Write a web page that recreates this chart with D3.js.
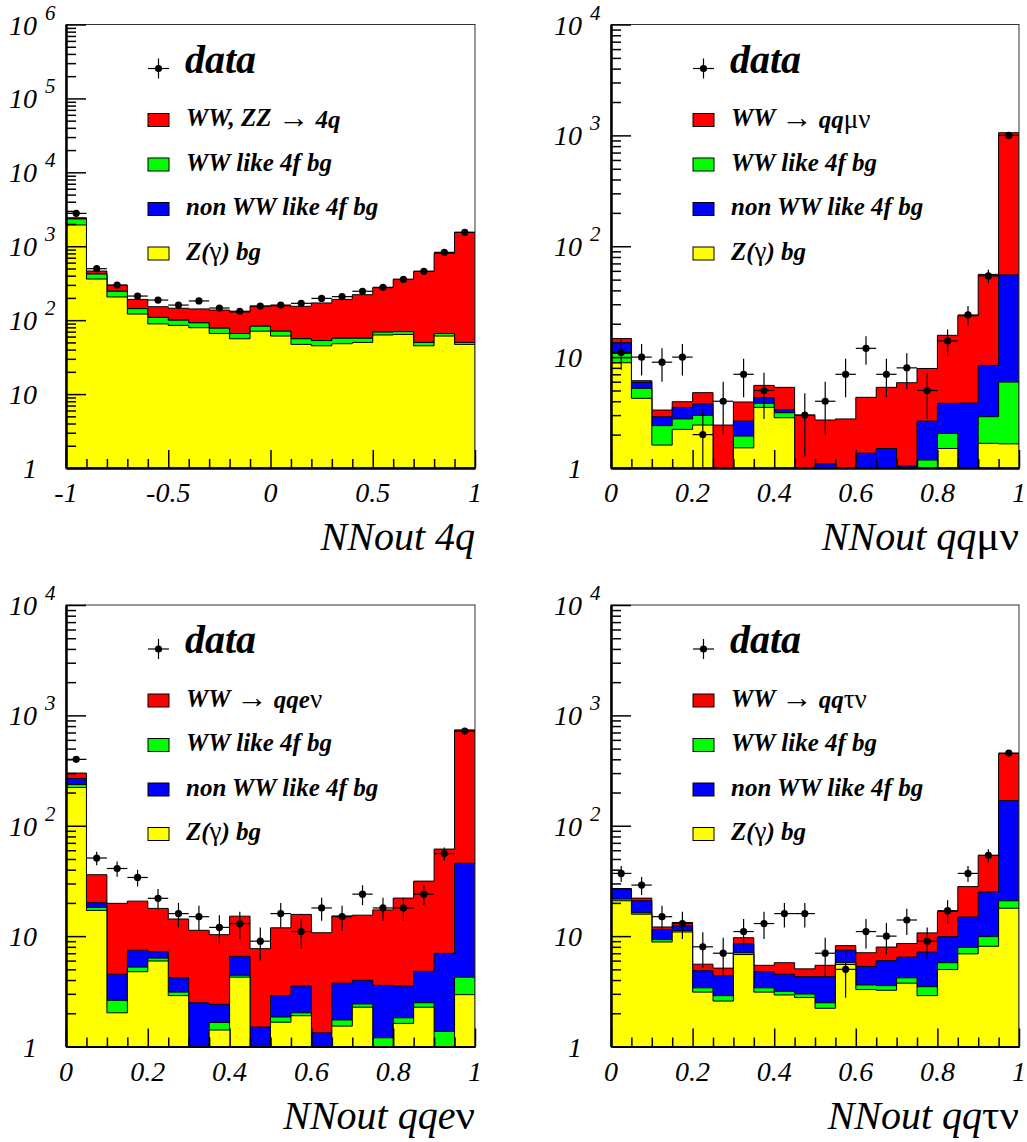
<!DOCTYPE html>
<html>
<head>
<meta charset="utf-8">
<script src="https://cdn.jsdelivr.net/npm/d3@7"></script>
<style>
  body { margin: 0; background: #fff; }
  text { font-family: "Liberation Serif", "Times New Roman", serif; }
</style>
</head>
<body>
<svg id="chart" width="1027" height="1142"></svg>
<script>
// ---- bin edges / tick labels ----
const edges4q = [-1, -0.9, -0.8, -0.7, -0.6, -0.5, -0.4, -0.3, -0.2, -0.1, 0,
                 0.1, 0.2, 0.3, 0.4, 0.5, 0.6, 0.7, 0.8, 0.9, 1];
const edgesLep = [0, 0.05, 0.1, 0.15, 0.2, 0.25, 0.3, 0.35, 0.4, 0.45, 0.5,
                  0.55, 0.6, 0.65, 0.7, 0.75, 0.8, 0.85, 0.9, 0.95, 1];
const xLabels4q = [-1, -0.5, 0, 0.5, 1];
const xLabelsLep = [0, 0.2, 0.4, 0.6, 0.8, 1];

// ---- NNout 4q ----
const zgam4q  = [1940, 360, 206, 121, 89, 85, 79, 66, 56, 71, 61, 47, 45, 48, 50, 63, 64, 45, 61, 47];
const ww4f4q  = [400, 61, 40, 22, 20, 15, 13, 12, 10, 12, 10, 9, 8, 9, 7, 6, 6, 5, 5, 3];
const nonww4q = [0, 0, 0, 0, 0, 0, 0, 0, 0, 0, 0, 0, 0, 0, 0, 0, 0, 0, 0, 0];
const sig4q   = [90, 41, 50, 48, 43, 45, 50, 59, 63, 72, 86, 98, 118, 134, 164, 206, 287, 408, 736, 1493];
const data4q  = [2790, 497, 299, 212, 187, 160, 182, 146, 132, 155, 160, 169, 197, 208, 246, 278, 357, 458, 828, 1543];

// ---- NNout qq mu nu ----
const zgamMu  = [8.9, 4.25, 1.61, 2.23, 2.44, 0, 1.52, 3.52, 2.84, 0, 0, 0, 0, 0, 0, 0, 1.5, 0, 1.67, 1.65];
const ww4fMu  = [1.9, 0.98, 0.8, 0.54, 0.54, 0, 0.42, 0.31, 0.31, 0, 0, 0, 0, 0, 0, 1.18, 0.55, 0, 1.23, 4.31];
const nonwwMu = [2.7, 0.69, 0.49, 0.75, 0.8, 0, 0.71, 0.48, 0.21, 0, 1.09, 0, 1.36, 1.5, 1.04, 1.47, 1.78, 3.85, 5.53, 49.2];
const sigMu   = [1.2, 0.21, 0.43, 0.44, 1.0, 2.44, 1.29, 1.25, 1.98, 3.0, 1.62, 2.77, 2.98, 3.84, 4.84, 5.25, 11.9, 19.75, 47.3, 1001];
const dataMu  = [11, 10, 9, 10, 2, 4, 7, 5, 0, 3, 4, 7, 12, 7, 8, 5, 14, 24, 54, 1000];

// ---- NNout qq e nu ----
const zgamE  = [222, 17.1, 2.02, 4.76, 5.95, 2.89, 0, 1.41, 4.25, 0, 1.66, 1.9, 0, 1.53, 2.27, 0, 1.62, 2.27, 0, 2.95];
const ww4fE  = [14, 1.1, 0.6, 0.48, 0.37, 0.22, 0, 0.24, 0.17, 0, 0.19, 0.12, 0, 0.21, 0.16, 1.2, 0.2, 0.22, 1.37, 1.3];
const nonwwE = [32, 1.9, 1.9, 2.21, 0.91, 1.08, 2.49, 0.76, 2.14, 1.5, 1.04, 1.51, 1.33, 2.01, 1.55, 2.38, 1.71, 2.31, 5.6, 41.5];
const sigE   = [32, 15.9, 15.3, 13.3, 10.6, 10.1, 8.8, 7.9, 8.6, 6.2, 9.0, 12.2, 9.4, 11.5, 11.5, 13.7, 18.6, 26.7, 54.5, 693];
const dataE  = [400, 51, 41, 34, 22, 16, 15, 12, 13, 9, 16, 11, 18, 15, 24, 18, 18, 24, 56, 720];

// ---- NNout qq tau nu ----
const zgamTau  = [20.9, 15.8, 8.85, 10.9, 3.11, 2.58, 6.81, 3.11, 2.93, 2.78, 2.22, 5.53, 3.28, 3.23, 3.75, 2.89, 4.98, 6.91, 8.09, 17.9];
const ww4fTau  = [0.8, 0.5, 0.45, 0.3, 0.29, 0.31, 0.26, 0.29, 0.23, 0.21, 0.27, 0.25, 0.33, 0.33, 0.44, 0.59, 0.76, 1.0, 1.8, 3.0];
const nonwwTau = [5.0, 4.6, 2.2, 1.2, 1.47, 1.49, 1.45, 1.36, 1.36, 1.3, 1.8, 1.67, 1.71, 2.44, 2.27, 3.69, 4.15, 6.99, 15.2, 148];
const sigTau   = [0.3, 1.2, 0.6, 0.9, 0.7, 0.75, 1.15, 0.68, 1.22, 0.76, 1.15, 0.75, 1.75, 1.96, 2.12, 3.53, 6.81, 13.2, 28.7, 282];
const dataTau  = [37, 29, 15, 13, 8, 7, 11, 13, 16, 16, 7, 5, 11, 10, 14, 9, 17, 37, 54, 455];

const legendNames = {
  ww4f: "WW like 4f bg",
  nonww: "non WW like 4f bg",
  zg: "Z(γ) bg"
};

const panels = [
  { edges: edges4q, xLabels: xLabels4q, ymax: 1e6, zg: zgam4q, ww4f: ww4f4q, nonww: nonww4q, sig: sig4q, data: data4q,
    sigName: "WW, ZZ → 4q", title: "NNout 4q", left: 66, right: 475, top: 24.5, bottom: 468 },
  { edges: edgesLep, xLabels: xLabelsLep, ymax: 1e4, zg: zgamMu, ww4f: ww4fMu, nonww: nonwwMu, sig: sigMu, data: dataMu,
    sigName: "WW → qqμν", title: "NNout qqμν", left: 611, right: 1019, top: 24.5, bottom: 468 },
  { edges: edgesLep, xLabels: xLabelsLep, ymax: 1e4, zg: zgamE, ww4f: ww4fE, nonww: nonwwE, sig: sigE, data: dataE,
    sigName: "WW → qqeν", title: "NNout qqeν", left: 66, right: 475, top: 605, bottom: 1046.5 },
  { edges: edgesLep, xLabels: xLabelsLep, ymax: 1e4, zg: zgamTau, ww4f: ww4fTau, nonww: nonwwTau, sig: sigTau, data: dataTau,
    sigName: "WW → qqτν", title: "NNout qqτν", left: 611, right: 1019, top: 605, bottom: 1046.5 }
];

const colors = { zg: "#ffff00", ww4f: "#00ff00", nonww: "#0000ff", sig: "#ff0000" };
const keys = ["zg", "ww4f", "nonww", "sig"];

const svg = d3.select("#chart");

// greek letters and arrows are drawn upright, like ROOT's symbol font
function richText(sel, str) {
  const re = /([α-ωΑ-Ω→]+)/;
  str.split(re).filter(s => s.length).forEach(s => {
    const t = sel.append("tspan").text(s);
    if (re.test(s)) {
      t.attr("font-style", "normal").attr("font-weight", "normal");
      if (s.includes("→")) t.attr("font-size", "1.25em").attr("dy", "0.05em");
      else t.attr("font-size", "1.08em");
    }
  });
}

panels.forEach((p, pi) => {
  const n = p.edges.length - 1;
  const x = d3.scaleLinear().domain([p.edges[0], p.edges[n]]).range([p.left, p.right]);
  const y = d3.scaleLog().domain([1, p.ymax]).range([p.bottom, p.top]).clamp(true);
  const yv = v => y(Math.max(v, 1e-3));

  const g = svg.append("g");
  g.append("clipPath").attr("id", "clip" + pi)
    .append("rect")
    .attr("x", p.left).attr("y", p.top)
    .attr("width", p.right - p.left).attr("height", p.bottom - p.top);
  const plot = g.append("g").attr("clip-path", `url(#clip${pi})`);

  // stacked histograms, drawn from the total down
  const rows = d3.range(n).map(i => ({ zg: p.zg[i], ww4f: p.ww4f[i], nonww: p.nonww[i], sig: p.sig[i] }));
  const stacked = d3.stack().keys(keys)(rows);
  stacked.slice().reverse().forEach(layer => {
    const path = d3.path();
    path.moveTo(x(p.edges[0]), p.bottom);
    layer.forEach((d, i) => {
      const yy = yv(d[1]);
      path.lineTo(x(p.edges[i]), yy);
      path.lineTo(x(p.edges[i + 1]), yy);
    });
    path.lineTo(x(p.edges[n]), p.bottom);
    path.closePath();
    plot.append("path")
      .attr("d", path.toString())
      .attr("fill", colors[layer.key])
      .attr("stroke", "#000")
      .attr("stroke-width", 1);
  });

  // data points with error bars
  const pts = p.data.map((v, i) => ({ v, x0: p.edges[i], x1: p.edges[i + 1] })).filter(d => d.v > 0);
  const dg = plot.append("g").attr("stroke", "#000").attr("stroke-width", 1.2);
  dg.selectAll("line.h").data(pts).enter().append("line")
    .attr("x1", d => x(d.x0)).attr("x2", d => x(d.x1))
    .attr("y1", d => yv(d.v)).attr("y2", d => yv(d.v));
  dg.selectAll("line.v").data(pts).enter().append("line")
    .attr("x1", d => x((d.x0 + d.x1) / 2)).attr("x2", d => x((d.x0 + d.x1) / 2))
    .attr("y1", d => yv(d.v - Math.sqrt(d.v))).attr("y2", d => yv(d.v + Math.sqrt(d.v)));
  plot.selectAll("circle").data(pts).enter().append("circle")
    .attr("cx", d => x((d.x0 + d.x1) / 2)).attr("cy", d => yv(d.v))
    .attr("r", 3.6).attr("fill", "#000");

  // frame
  g.append("rect")
    .attr("x", p.left).attr("y", p.top)
    .attr("width", p.right - p.left).attr("height", p.bottom - p.top)
    .attr("fill", "none").attr("stroke", "#333").attr("stroke-width", 1);

  // x axis: minor ticks at every bin edge, major ticks at labels
  const minorX = p.edges.filter(e => !p.xLabels.some(l => Math.abs(l - e) < 1e-9));
  const gxMinor = g.append("g").attr("transform", `translate(0,${p.bottom})`)
    .call(d3.axisBottom(x).tickValues(minorX).tickSizeInner(-9).tickSizeOuter(0).tickFormat(""));
  const gxMajor = g.append("g").attr("transform", `translate(0,${p.bottom})`)
    .call(d3.axisBottom(x).tickValues(p.xLabels).tickSizeInner(-18).tickSizeOuter(0).tickFormat(""));

  // y axis: decades and 2..9 minor ticks
  const decades = Math.round(Math.log10(p.ymax));
  const majorY = d3.range(decades + 1).map(k => Math.pow(10, k));
  const minorY = [];
  for (let k = 0; k < decades; k++) for (let m = 2; m <= 9; m++) minorY.push(m * Math.pow(10, k));
  const gyMinor = g.append("g").attr("transform", `translate(${p.left},0)`)
    .call(d3.axisLeft(y).tickValues(minorY).tickSizeInner(-10).tickSizeOuter(0).tickFormat(""));
  const gyMajor = g.append("g").attr("transform", `translate(${p.left},0)`)
    .call(d3.axisLeft(y).tickValues(majorY).tickSizeInner(-20).tickSizeOuter(0).tickFormat(""));

  [gxMinor, gxMajor, gyMinor, gyMajor].forEach(a => {
    a.selectAll(".tick line").attr("stroke", "#000").attr("stroke-width", 1.5);
    a.select(".domain").attr("stroke", "#000").attr("stroke-width", 2);
  });

  // tick labels
  g.selectAll("text.xl").data(p.xLabels).enter().append("text")
    .attr("x", d => x(d)).attr("y", p.bottom + 34)
    .attr("text-anchor", "middle")
    .attr("font-size", 28).attr("font-style", "italic")
    .text(d => String(+d.toFixed(2)));

  majorY.forEach((v, k) => {
    g.append("text")
      .attr("x", p.left - 29).attr("y", y(v) + 10)
      .attr("text-anchor", "end")
      .attr("font-size", 28).attr("font-style", "italic")
      .text(k === 0 ? "1" : "10");
    if (k >= 2) {
      g.append("text")
        .attr("x", p.left - 21).attr("y", y(v) - 5)
        .attr("font-size", 21).attr("font-style", "italic")
        .text(k);
    }
  });

  // axis title
  const title = g.append("text")
    .attr("x", p.right).attr("y", p.bottom + 82)
    .attr("text-anchor", "end")
    .attr("font-size", 40).attr("font-style", "italic");
  richText(title, p.title);

  // legend
  const lx = p.left, ly = p.top;
  const lg = g.append("g");
  lg.append("line").attr("x1", lx + 82).attr("x2", lx + 103).attr("y1", ly + 44).attr("y2", ly + 44)
    .attr("stroke", "#000").attr("stroke-width", 1.2);
  lg.append("line").attr("x1", lx + 92.5).attr("x2", lx + 92.5).attr("y1", ly + 34).attr("y2", ly + 54)
    .attr("stroke", "#000").attr("stroke-width", 1.2);
  lg.append("circle").attr("cx", lx + 92.5).attr("cy", ly + 44).attr("r", 3.6).attr("fill", "#000");
  lg.append("text").attr("x", lx + 119).attr("y", ly + 48)
    .attr("font-size", 40).attr("font-weight", "bold").attr("font-style", "italic")
    .text("data");

  const entries = [
    { key: "sig", name: p.sigName },
    { key: "ww4f", name: legendNames.ww4f },
    { key: "nonww", name: legendNames.nonww },
    { key: "zg", name: legendNames.zg }
  ];
  entries.forEach((e, i) => {
    const cy = ly + 95.5 + i * 44.5;
    lg.append("rect")
      .attr("x", lx + 82).attr("y", cy - 6.5).attr("width", 21).attr("height", 13)
      .attr("fill", colors[e.key]).attr("stroke", "#000").attr("stroke-width", 1);
    const t = lg.append("text").attr("x", lx + 120).attr("y", cy + 6)
      .attr("font-size", 25).attr("font-weight", "bold").attr("font-style", "italic");
    richText(t, e.name);
  });
});
</script>
</body>
</html>
